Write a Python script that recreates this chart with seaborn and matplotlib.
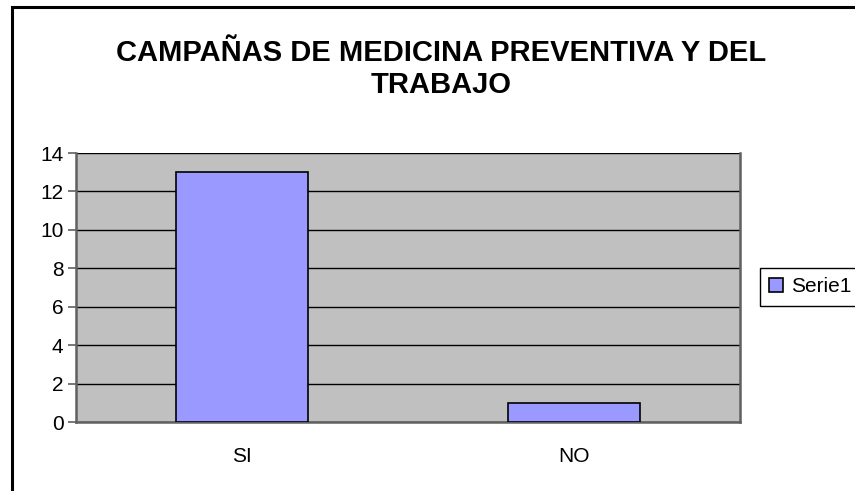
import pandas as pd
import matplotlib
matplotlib.use("Agg")
import matplotlib.pyplot as plt
import seaborn as sns
from matplotlib.patches import Rectangle

# Datos
categorias = ["SI", "NO"]
valores = [13, 1]
serie = "Serie1"
titulo = "CAMPAÑAS DE MEDICINA PREVENTIVA Y DEL\nTRABAJO"
yticks = [0, 2, 4, 6, 8, 10, 12, 14]

df = pd.DataFrame({"respuesta": categorias, "cantidad": valores})

sns.set_style("white")
plt.rcParams["font.family"] = ["Liberation Sans", "DejaVu Sans"]
plt.rcParams["text.color"] = "black"

fig = plt.figure(figsize=(8.55, 4.91), dpi=100)
ax = fig.add_axes([76 / 855, 69 / 491, 664 / 855, 269 / 491])
ax.set_facecolor("#C0C0C0")

sns.barplot(data=df, x="respuesta", y="cantidad", color="#9999FF", width=0.4,
            saturation=1, edgecolor="black", linewidth=1.2, ax=ax, zorder=3)

ax.set_ylim(0, 14)
ax.set_xlim(-0.5, 1.5)
ax.set_yticks(yticks)
ax.set_xlabel("")
ax.set_ylabel("")
ax.yaxis.grid(True, color="black", linewidth=1)
ax.set_axisbelow(True)

# marcas del eje x en los limites de cada categoria
ax.set_xticks([-0.5, 0.5, 1.5], minor=True)
ax.tick_params(axis="x", which="major", length=0, labelsize=15, pad=18,
               labelcolor="black")
ax.tick_params(axis="x", which="minor", length=6, width=1.2, color="#606060", direction="out")
ax.tick_params(axis="y", length=6, width=1.2, color="#606060", direction="out",
               labelsize=15, pad=3, left=True, labelcolor="black")

for side in ["left", "bottom", "right"]:
    ax.spines[side].set_color("#606060")
    ax.spines[side].set_linewidth(1.8)
ax.spines["top"].set_visible(False)

fig.text(0.516, 1 - 69 / 491, titulo, ha="center", va="center", fontsize=21,
         fontweight="bold", linespacing=1.15, color="black")

leg = fig.legend(handles=[ax.patches[0]], labels=[serie], loc="center left",
                 bbox_to_anchor=(760 / 855, 1 - 287 / 491), frameon=True,
                 fancybox=False, framealpha=1, edgecolor="black", fontsize=15,
                 handlelength=0.65, handleheight=0.65, handletextpad=0.4,
                 borderpad=0.45, borderaxespad=0)
leg.get_frame().set_linewidth(1)

# borde del area del grafico
fig.patches.append(Rectangle((12 / 855, -0.1), 1.2, 1.1 - 7 / 491,
                             transform=fig.transFigure, fill=False,
                             edgecolor="black", linewidth=2.2))

fig.savefig("out.png", dpi=100)
